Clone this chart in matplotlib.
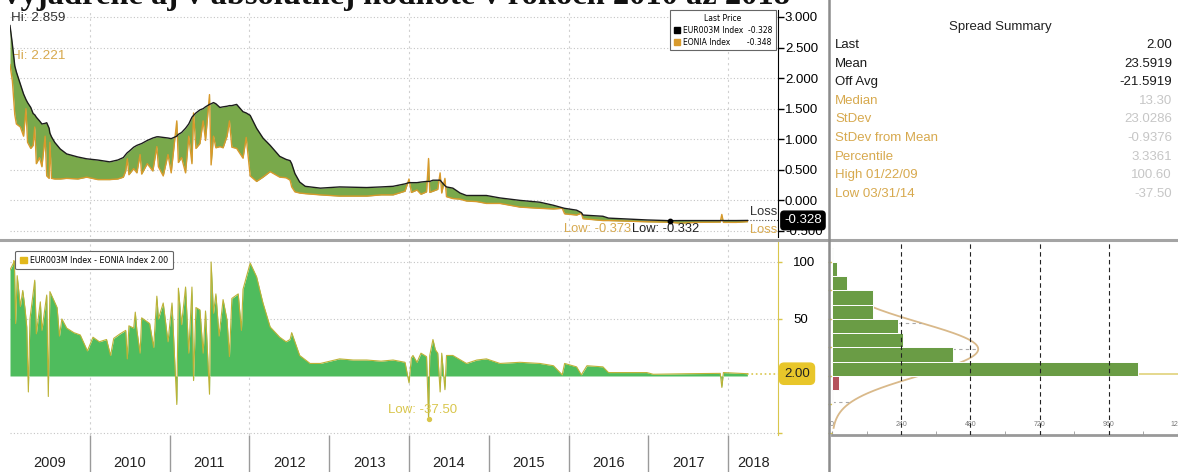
import matplotlib
matplotlib.use('Agg')
import matplotlib.pyplot as plt
import matplotlib.transforms as mtransforms
from matplotlib.patches import Patch
from matplotlib.lines import Line2D
import numpy as np

plt.rcParams['font.family'] = ['Liberation Sans', 'DejaVu Sans']

title = 'Vyjadrené aj v absolútnej hodnote v rokoch 2010 až 2018'

# upper panel: EUR003M and EONIA (%) on decimal-year dates
rate_dates = [2009.00, 2009.03, 2009.06, 2009.08, 2009.13, 2009.17, 2009.20, 2009.22, 2009.26, 2009.29,
              2009.31, 2009.33, 2009.37, 2009.40, 2009.44, 2009.46, 2009.49, 2009.50, 2009.52, 2009.56,
              2009.63, 2009.71, 2009.85, 2009.96, 2010.10, 2010.25, 2010.35, 2010.42, 2010.45, 2010.47,
              2010.49, 2010.55, 2010.59, 2010.63, 2010.65, 2010.72, 2010.79, 2010.84, 2010.86, 2010.92,
              2010.98, 2011.02, 2011.09, 2011.11, 2011.15, 2011.20, 2011.24, 2011.28, 2011.30, 2011.33,
              2011.38, 2011.42, 2011.45, 2011.50, 2011.52, 2011.55, 2011.58, 2011.63, 2011.67, 2011.72,
              2011.75, 2011.78, 2011.84, 2011.92, 2011.96, 2012.01, 2012.09, 2012.17, 2012.26, 2012.38,
              2012.46, 2012.51, 2012.53, 2012.57, 2012.63, 2012.70, 2012.89, 2013.13, 2013.47, 2013.65,
              2013.80, 2013.95, 2014.00, 2014.03, 2014.10, 2014.15, 2014.22, 2014.245, 2014.26, 2014.30,
              2014.36, 2014.39, 2014.41, 2014.45, 2014.47, 2014.55, 2014.64, 2014.72, 2014.85, 2014.97,
              2015.14, 2015.39, 2015.64, 2015.81, 2015.92, 2015.95, 2016.10, 2016.16, 2016.18, 2016.43,
              2016.50, 2016.98, 2017.27, 2017.40, 2017.60, 2017.90, 2017.92, 2017.94, 2018.10, 2018.24]
eur003m = [2.86, 2.55, 2.20, 2.10, 1.90, 1.74, 1.65, 1.60, 1.52, 1.42,
           1.40, 1.36, 1.30, 1.25, 1.26, 1.27, 1.18, 1.10, 1.04, 0.95,
           0.84, 0.76, 0.71, 0.68, 0.66, 0.63, 0.66, 0.70, 0.75, 0.78,
           0.80, 0.87, 0.90, 0.92, 0.93, 0.98, 1.02, 1.04, 1.04, 1.03,
           1.02, 1.01, 1.05, 1.08, 1.11, 1.18, 1.25, 1.36, 1.39, 1.43,
           1.48, 1.50, 1.53, 1.57, 1.58, 1.60, 1.58, 1.52, 1.53, 1.54,
           1.55, 1.55, 1.57, 1.45, 1.43, 1.39, 1.18, 1.02, 0.90, 0.72,
           0.67, 0.65, 0.60, 0.44, 0.30, 0.23, 0.20, 0.22, 0.21, 0.22,
           0.23, 0.27, 0.29, 0.29, 0.29, 0.30, 0.31, 0.31, 0.31, 0.33,
           0.33, 0.33, 0.30, 0.24, 0.22, 0.20, 0.12, 0.08, 0.08, 0.08,
           0.04, 0.00, -0.03, -0.08, -0.12, -0.13, -0.16, -0.20, -0.24, -0.26,
           -0.29, -0.32, -0.332, -0.330, -0.330, -0.330, -0.330, -0.330, -0.330, -0.328]
eonia = [2.22, 1.95, 1.40, 1.25, 1.20, 1.05, 1.50, 0.95, 0.85, 0.90,
         1.20, 0.60, 0.70, 0.55, 1.05, 0.40, 0.36, 0.95, 0.36, 0.35,
         0.35, 0.36, 0.35, 0.38, 0.34, 0.34, 0.35, 0.38, 0.48, 0.68,
         0.42, 0.52, 0.45, 0.75, 0.43, 0.60, 0.48, 0.88, 0.55, 0.40,
         0.75, 0.45, 1.30, 0.62, 0.70, 0.45, 1.05, 0.60, 1.43, 0.85,
         0.93, 1.30, 0.98, 1.73, 0.58, 1.05, 0.86, 0.88, 0.86, 1.05,
         1.30, 0.87, 0.85, 0.69, 1.03, 0.40, 0.31, 0.38, 0.47, 0.38,
         0.37, 0.33, 0.22, 0.14, 0.12, 0.11, 0.09, 0.07, 0.07, 0.09,
         0.09, 0.15, 0.35, 0.13, 0.17, 0.10, 0.14, 0.685, 0.13, 0.15,
         0.18, 0.45, 0.12, 0.36, 0.06, 0.03, 0.02, -0.01, -0.02, -0.05,
         -0.05, -0.11, -0.13, -0.14, -0.13, -0.22, -0.24, -0.21, -0.30, -0.33,
         -0.33, -0.35, -0.358, -0.373, -0.36, -0.355, -0.23, -0.36, -0.36, -0.348]

# lower panel: EUR003M - EONIA spread (bp)
spread_dates = [2009.00, 2009.055, 2009.07, 2009.09, 2009.13, 2009.16, 2009.19, 2009.21, 2009.23, 2009.25,
                2009.31, 2009.33, 2009.38, 2009.40, 2009.46, 2009.48, 2009.50, 2009.59, 2009.62, 2009.65,
                2009.71, 2009.80, 2009.88, 2009.97, 2010.04, 2010.12, 2010.21, 2010.26, 2010.30, 2010.38,
                2010.45, 2010.47, 2010.49, 2010.55, 2010.57, 2010.59, 2010.63, 2010.65, 2010.75, 2010.80,
                2010.84, 2010.86, 2010.92, 2010.98, 2011.03, 2011.09, 2011.11, 2011.15, 2011.20, 2011.24,
                2011.28, 2011.30, 2011.33, 2011.38, 2011.42, 2011.45, 2011.50, 2011.52, 2011.55, 2011.58,
                2011.62, 2011.67, 2011.72, 2011.75, 2011.78, 2011.86, 2011.90, 2011.92, 2012.01, 2012.09,
                2012.17, 2012.26, 2012.38, 2012.46, 2012.51, 2012.53, 2012.63, 2012.76, 2012.89, 2013.13,
                2013.30, 2013.47, 2013.65, 2013.80, 2013.95, 2014.00, 2014.03, 2014.05, 2014.10, 2014.15,
                2014.22, 2014.245, 2014.26, 2014.30, 2014.33, 2014.36, 2014.39, 2014.41, 2014.45, 2014.47,
                2014.55, 2014.72, 2014.85, 2014.97, 2015.14, 2015.39, 2015.64, 2015.81, 2015.92, 2015.95,
                2016.10, 2016.16, 2016.23, 2016.43, 2016.50, 2016.98, 2017.06, 2017.50, 2017.90, 2017.92,
                2017.94, 2018.24]
spread = [93, 100.6, 46, 88, 61, 75, 58, 43, -14, 50,
          84, 37, 65, 40, 71, -18, 74, 60, 35, 50,
          42, 38, 36, 22, 34, 30, 32, 18, 33, 37,
          40, 15, 44, 42, 56, 40, 20, 51, 46, 25,
          70, 50, 64, 30, 64, -25, 77, 45, 78, 20,
          78, -4, 60, 58, 20, 57, -16, 100, 55, 72,
          35, 67, 49, 17, 68, 72, 40, 76, 99, 87,
          64, 43, 34, 30, 32, 38, 18, 11, 11, 15,
          14, 14, 13, 14, 12, -6, 16, 18, 12, 20,
          17, -37.5, 18, 32, 23, 20, -14, 20, -12, 18,
          18, 11, 14, 15, 11, 12, 11, 9, 1, 11,
          8, 1, 9, 8, 3, 3, 1.5, 2, 2.3, -10,
          3, 2.0]

# histogram of the spread (bp bins, day counts)
hist_edges = [-37.5, -25, -12.5, 0, 12.5, 25, 37.5, 50, 62.5, 75, 87.5, 100, 112.5]
hist_counts = [1, 4, 24, 1061, 420, 246, 229, 142, 142, 52, 17, 4]
spread_mean = 23.5919
spread_sd = 23.0286

years = list(range(2009, 2019))

summary_labels = ['Last', 'Mean', 'Off Avg', 'Median', 'StDev', 'StDev from Mean',
                  'Percentile', 'High 01/22/09', 'Low 03/31/14']
summary_values = ['2.00', '23.5919', '-21.5919', '13.30', '23.0286', '-0.9376',
                  '3.3361', '100.60', '-37.50']

GREEN_TOP = '#79a94b'
ORANGE = '#d89a2c'
GREEN_BOT = '#4fbc5d'
SPIKE = '#bdb236'
YELLOW = '#d9c64c'
HIST_GREEN = '#6a9c45'
RED = '#b5525c'
GRID = '#c4c4c4'
GOLD_TXT = '#d7a94e'

W, H = 1178, 472


def fx(px):
    return px / W


def fy(py):
    return 1 - py / H


fig = plt.figure(figsize=(W / 100, H / 100), dpi=100)
fig.patch.set_facecolor('white')

x0, x1 = 2009.0, 2009 + 768 / 79.8

ax_top = fig.add_axes([fx(10), fy(237), fx(778) - fx(10), fy(10) - fy(237)])
ax_bot = fig.add_axes([fx(10), fy(435), fx(778) - fx(10), fy(242) - fy(435)])
ax_hist = fig.add_axes([fx(832), fy(435), 1 - fx(832), fy(242) - fy(435)])

# ---- upper panel
ax = ax_top
ax.set_xlim(x0, x1)
ax.set_ylim(-0.599, 3.114)
ax.fill_between(rate_dates, eonia, eur003m, color=GREEN_TOP, lw=0, zorder=2)
ax.plot(rate_dates, eonia, color=ORANGE, lw=1.0, zorder=3)
ax.plot(rate_dates, eur003m, color='#1c1c1c', lw=1.0, zorder=4)
ax.hlines(eur003m[-1], rate_dates[-1], x1, colors='#444', linestyles=':', lw=0.8)
imin = int(np.argmin(eur003m))
ax.scatter([rate_dates[imin]], [eur003m[imin]], s=10, color='black', zorder=5)
ax.set_yticks(np.arange(-0.5, 3.01, 0.5))
ax.set_yticklabels(['%.3f' % v for v in np.arange(-0.5, 3.01, 0.5)])
ax.yaxis.tick_right()
ax.tick_params(axis='y', length=4, width=1, pad=1, labelsize=9.5, color='black')
ax.set_xticks([])
for s in ['top', 'left', 'bottom']:
    ax.spines[s].set_visible(False)
ax.spines['right'].set_color('black')
ax.grid(axis='y', ls=(0, (1, 2)), color=GRID, lw=0.8)
for yr in [2010, 2012, 2014, 2016, 2018]:
    ax.axvline(yr, ls=(0, (2, 3)), color='#d0d0d0', lw=0.8, zorder=1)

tr_top = mtransforms.blended_transform_factory(ax.transAxes, ax.transData)
ax.text(0.001, 1.0 - 8 / 227, 'Hi: 2.859', transform=ax.transAxes, ha='left', va='center',
        fontsize=9.7, color='#333', zorder=6)
ax.text(0.001, 2.36, 'Hi: 2.221', transform=tr_top, ha='left', va='center', fontsize=9.7,
        color=GOLD_TXT, zorder=1)
ax.text(2016.78, -0.468, 'Low: -0.373', ha='right', va='center', fontsize=9.3, color=GOLD_TXT)
ax.text(2016.80, -0.468, 'Low: -0.332', ha='left', va='center', fontsize=9.3, color='#222')
ax.text(0.999, -0.19, 'Loss', transform=tr_top, ha='right', va='center', fontsize=9.3, color='#333')
ax.text(0.999, -0.49, 'Loss', transform=tr_top, ha='right', va='center', fontsize=9.3, color=GOLD_TXT)
ax.text(1.008, eur003m[-1], '%.3f' % eur003m[-1], transform=tr_top, ha='left', va='center',
        fontsize=9.5, color='white', zorder=10, clip_on=False,
        bbox=dict(boxstyle='round,pad=0.25', fc='black', ec='black'))
leg = ax.legend(handles=[Patch(color='black'), Patch(color=ORANGE)],
                labels=['EUR003M Index  %.3f' % eur003m[-1], 'EONIA Index       %.3f' % eonia[-1]],
                title='Last Price', loc='upper right', bbox_to_anchor=(0.998, 1.0),
                borderaxespad=0.05, title_fontsize=5.5,
                handlelength=0.8, handleheight=0.8, borderpad=0.5, labelspacing=0.35,
                handletextpad=0.4, fancybox=False, edgecolor='#666', framealpha=1,
                prop={'family': 'DejaVu Sans', 'size': 5.5})
leg.get_title().set_family('DejaVu Sans')
leg.get_frame().set_linewidth(0.8)

# ---- lower panel
ax = ax_bot
ax.set_xlim(x0, x1)
ax.set_ylim(-51.75, 117.5)
ax.fill_between(spread_dates, 0, spread, color=GREEN_BOT, lw=0, zorder=2)
ax.plot(spread_dates, spread, color=SPIKE, lw=0.8, zorder=3)
ax.hlines(spread[-1], spread_dates[-1], x1, colors=YELLOW, linestyles=':', lw=1.2)
jmin = int(np.argmin(spread))
ax.scatter([spread_dates[jmin]], [spread[jmin]], s=8, color=YELLOW, zorder=5)
ax.yaxis.tick_right()
ax.set_yticks([-50, 50, 100])
ax.set_yticklabels(['', '50', '100'])
ax.tick_params(axis='y', length=3, width=1, pad=8, labelsize=9.5, color=YELLOW)
ax.grid(axis='y', ls=(0, (1, 2)), color=GRID, lw=0.8)
for yr in [2010, 2012, 2014, 2016, 2018]:
    ax.axvline(yr, ls=(0, (2, 3)), color='#d0d0d0', lw=0.8, zorder=1)
for s in ['top', 'left', 'bottom']:
    ax.spines[s].set_visible(False)
ax.spines['right'].set_color(YELLOW)

ax.set_xticks(years[1:])
ax.set_xticklabels([])
label_pos = [min(y + 1, x1) / 2 + y / 2 for y in years]
ax.set_xticks(label_pos, minor=True)
ax.set_xticklabels([str(y) for y in years], minor=True)
ax.tick_params(axis='x', which='major', length=27, width=1, color='#9a9a9a', direction='out')
ax.tick_params(axis='x', which='minor', length=0, pad=15, labelsize=10.5, labelcolor='#222')

tr_bot = mtransforms.blended_transform_factory(ax.transAxes, ax.transData)
ax.text(0.003, 96.5, 'Hi: 100.60', transform=tr_bot, ha='left', va='center', fontsize=10,
        color=YELLOW, zorder=1)
ax.text(2013.74, -29.8, 'Low: -37.50', ha='left', va='center', fontsize=9.5, color=YELLOW)
ax.text(1.008, spread[-1], '%.2f' % spread[-1], transform=tr_bot, ha='left', va='center',
        fontsize=9.5, color='#222', zorder=10, clip_on=False,
        bbox=dict(boxstyle='round,pad=0.35', fc='#e8c62a', ec='#e8c62a'))
leg2 = ax.legend(handles=[Patch(color='#e2b81c')],
                 labels=['EUR003M Index - EONIA Index %.2f' % spread[-1]],
                 loc='upper left', bbox_to_anchor=(0.002, 0.975),
                 handlelength=0.8, handleheight=0.8, borderpad=0.6, handletextpad=0.4,
                 fancybox=True, edgecolor='#666', framealpha=1,
                 prop={'family': 'DejaVu Sans', 'size': 5.7})
leg2.set_zorder(8)
leg2.get_frame().set_linewidth(0.8)

# ---- histogram
ax = ax_hist
ax.set_xlim(0, 1200)
ax.set_ylim(-51.75, 117.5)
bw = hist_edges[1] - hist_edges[0]
colors = [HIST_GREEN if e >= 0 else RED for e in hist_edges[:-1]]
ax.axhline(spread[-1], color='#e0d27a', lw=1.2, zorder=1)
yy = np.linspace(spread_mean - 3 * spread_sd, spread_mean + 3 * spread_sd, 300)
scale = sum(hist_counts) * bw / (spread_sd * np.sqrt(2 * np.pi))
xx = scale * np.exp(-0.5 * ((yy - spread_mean) / spread_sd) ** 2)
ax.plot(xx, yy, color='#d9b98a', lw=1.3, zorder=2)
for k in [-2, -1, 0, 1, 2]:
    yk = spread_mean + k * spread_sd
    ax.hlines(yk, 0, scale * np.exp(-0.5 * k * k), colors='#aaaaaa', linestyles=(0, (3, 3)),
              lw=0.8, zorder=2)
ax.barh(hist_edges[:-1], hist_counts, height=bw, align='edge', color=colors,
        edgecolor='white', lw=0.7, zorder=3)
for xv in [240, 480, 720, 960]:
    ax.axvline(xv, color='#222', ls=(0, (4, 3)), lw=0.8, zorder=4)
ax.set_xticks([0, 240, 480, 720, 960, 1200])
ax.set_xticks([120, 360, 600, 840, 1080], minor=True)
ax.tick_params(axis='x', which='both', direction='in', length=3, pad=-10, labelsize=5,
               labelcolor='#777', color='#999')
ax.set_yticks([-50, 0, 50, 100])
ax.set_yticks([-25, 25, 75], minor=True)
ax.set_yticklabels([])
ax.tick_params(axis='y', which='both', direction='out', length=3, width=1, color=YELLOW)
for s in ['top', 'right', 'left']:
    ax.spines[s].set_visible(False)
ax.spines['bottom'].set_color('#999')
ax.spines['bottom'].set_linewidth(2)

# ---- summary table
fig.text(fx(1000), fy(27), 'Spread Summary', ha='center', va='center', fontsize=9.5, color='#222')
for i, (lab, val) in enumerate(zip(summary_labels, summary_values)):
    ypix = 45 + i * 18.6
    lc = '#1a1a1a' if i < 3 else GOLD_TXT
    vc = '#1a1a1a' if i < 3 else '#c6c6c6'
    fig.text(fx(835), fy(ypix), lab, ha='left', va='center', fontsize=9.5, color=lc)
    fig.text(fx(1172), fy(ypix), val, ha='right', va='center', fontsize=9.5, color=vc)

# ---- separators and cut-off title
fig.add_artist(Line2D([0, 1], [fy(240), fy(240)], color='#a4a4a4', lw=2.2))
fig.add_artist(Line2D([fx(829), fx(829)], [0, 1], color='#8c8c8c', lw=1.8))
fig.text(0.0, fy(4), title, ha='left', va='baseline', fontsize=23.4, fontweight='bold',
         family='Liberation Serif', color='#111')

fig.savefig('out.png', dpi=100)
